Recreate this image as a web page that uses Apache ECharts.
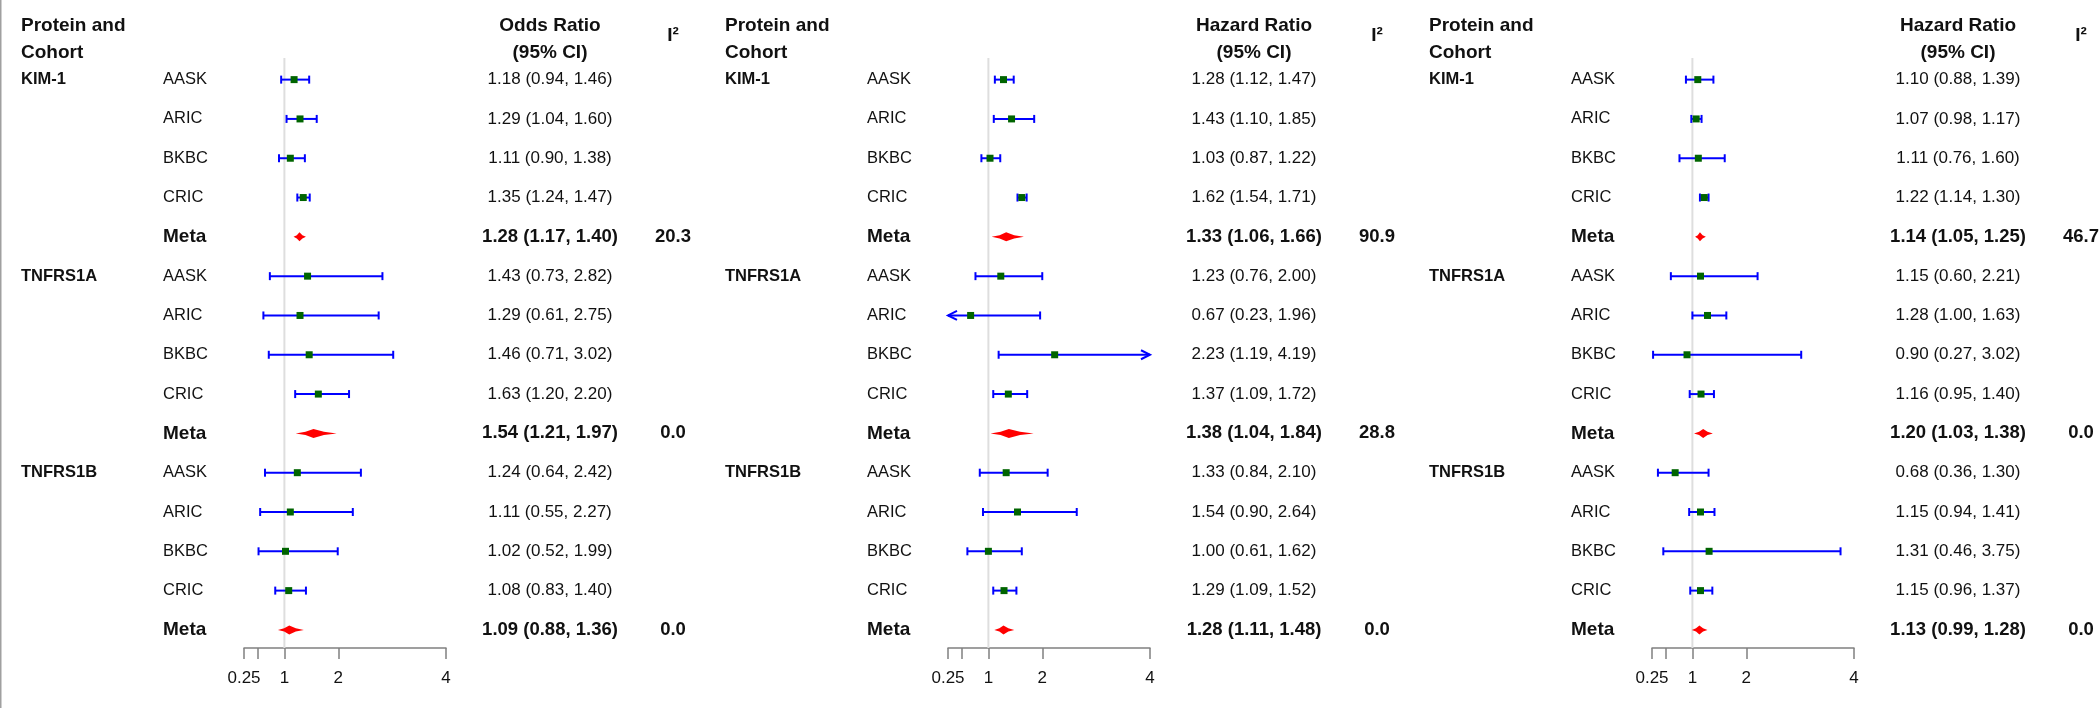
<!DOCTYPE html>
<html>
<head>
<meta charset="utf-8">
<script src="https://cdn.jsdelivr.net/npm/echarts@6/dist/echarts.min.js"></script>
<style>
html,body{margin:0;padding:0;background:#fff;}
#chart{width:2100px;height:708px;}
</style>
</head>
<body>
<div id="chart"></div>
<script>
// ---------------- DATA ----------------
const proteins = ['KIM-1', 'TNFRS1A', 'TNFRS1B'];
const cohorts = ['AASK', 'ARIC', 'BKBC', 'CRIC', 'Meta'];
const panelTitles = ['Odds Ratio', 'Hazard Ratio', 'Hazard Ratio'];

// Panel 1 (Odds Ratio) — rows: KIM-1 x5, TNFRS1A x5, TNFRS1B x5 (last of each = Meta)
const est1 = [1.18, 1.29, 1.11, 1.35, 1.28,  1.43, 1.29, 1.46, 1.63, 1.54,  1.24, 1.11, 1.02, 1.08, 1.09];
const lo1  = [0.94, 1.04, 0.90, 1.24, 1.17,  0.73, 0.61, 0.71, 1.20, 1.21,  0.64, 0.55, 0.52, 0.83, 0.88];
const hi1  = [1.46, 1.60, 1.38, 1.47, 1.40,  2.82, 2.75, 3.02, 2.20, 1.97,  2.42, 2.27, 1.99, 1.40, 1.36];
const isq1 = [20.3, 0.0, 0.0];

// Panel 2 (Hazard Ratio)
const est2 = [1.28, 1.43, 1.03, 1.62, 1.33,  1.23, 0.67, 2.23, 1.37, 1.38,  1.33, 1.54, 1.00, 1.29, 1.28];
const lo2  = [1.12, 1.10, 0.87, 1.54, 1.06,  0.76, 0.23, 1.19, 1.09, 1.04,  0.84, 0.90, 0.61, 1.09, 1.11];
const hi2  = [1.47, 1.85, 1.22, 1.71, 1.66,  2.00, 1.96, 4.19, 1.72, 1.84,  2.10, 2.64, 1.62, 1.52, 1.48];
const isq2 = [90.9, 28.8, 0.0];

// Panel 3 (Hazard Ratio)
const est3 = [1.10, 1.07, 1.11, 1.22, 1.14,  1.15, 1.28, 0.90, 1.16, 1.20,  0.68, 1.15, 1.31, 1.15, 1.13];
const lo3  = [0.88, 0.98, 0.76, 1.14, 1.05,  0.60, 1.00, 0.27, 0.95, 1.03,  0.36, 0.94, 0.46, 0.96, 0.99];
const hi3  = [1.39, 1.17, 1.60, 1.30, 1.25,  2.21, 1.63, 3.02, 1.40, 1.38,  1.30, 1.41, 3.75, 1.37, 1.28];
const isq3 = [46.7, 0.0, 0.0];

const xTickValues = [0.25, 0.5, 1, 2, 4];
const xTickLabels = [0.25, 1, 2, 4];
const xMin = 0.25, xMax = 4;

// ---------------- LAYOUT ----------------
const panels = [
  {est: est1, lo: lo1, hi: hi1, isq: isq1, title: panelTitles[0]},
  {est: est2, lo: lo2, hi: hi2, isq: isq2, title: panelTitles[1]},
  {est: est3, lo: lo3, hi: hi3, isq: isq3, title: panelTitles[2]}
];
const PANEL_STEP = 704;
const TOP = 58, HEIGHT = 590;
const Y_MIN = -0.55, Y_MAX = 14.46;
const COL_PROTEIN = 21, COL_COHORT = 163, COL_CI = 550, COL_ISQ = 673;
const FOREST_LEFT = 244, FOREST_W = 202;
const FONT = '"Liberation Sans", Arial, Helvetica, sans-serif';
const TXT = '#111111';

const grids = [], xAxes = [], yAxes = [], series = [];

panels.forEach((pn, p) => {
  const gTable = grids.length;
  grids.push({left: p * PANEL_STEP, top: TOP, width: 700, height: HEIGHT, outerBoundsMode: 'none'});
  const gForest = grids.length;
  grids.push({left: p * PANEL_STEP + FOREST_LEFT, top: TOP, width: FOREST_W, height: HEIGHT, outerBoundsMode: 'none'});

  xAxes.push({gridIndex: gTable, type: 'value', min: 0, max: 700, show: false});
  yAxes.push({gridIndex: gTable, type: 'value', min: Y_MIN, max: Y_MAX, inverse: true, show: false});

  xAxes.push({
    gridIndex: gForest, type: 'value', min: xMin, max: xMax, position: 'bottom',
    axisLine: {show: true, onZero: false, lineStyle: {color: '#808080', width: 1.5}},
    axisTick: {show: true, length: 11, inside: false, customValues: xTickValues, lineStyle: {color: '#808080', width: 1.5}},
    axisLabel: {show: true, customValues: xTickLabels, fontSize: 17, color: TXT, fontFamily: FONT, margin: 22,
      formatter: v => String(v)},
    splitLine: {show: false}
  });
  yAxes.push({gridIndex: gForest, type: 'value', min: Y_MIN, max: Y_MAX, inverse: true, show: false});

  const xT = xAxes.length - 2, yT = yAxes.length - 2;
  const xF = xAxes.length - 1, yF = yAxes.length - 1;

  // ----- text items -----
  const items = [];
  items.push({x: COL_PROTEIN, y: -1.02, text: 'Protein and\nCohort', bold: true, size: 19, align: 'left'});
  items.push({x: COL_CI, y: -1.02, text: pn.title + '\n(95% CI)', bold: true, size: 19, align: 'center'});
  items.push({x: COL_ISQ, y: -1.11, text: 'I\u00B2', bold: true, size: 19, align: 'center'});
  proteins.forEach((prot, g) => {
    items.push({x: COL_PROTEIN, y: g * 5, text: prot, bold: true, size: 16.5, align: 'left'});
    cohorts.forEach((c, k) => {
      const r = g * 5 + k;
      const meta = c === 'Meta';
      items.push({x: COL_COHORT, y: r, text: c, bold: meta, size: meta ? 19 : 16.5, align: 'left'});
      const s = pn.est[r].toFixed(2) + ' (' + pn.lo[r].toFixed(2) + ', ' + pn.hi[r].toFixed(2) + ')';
      items.push({x: COL_CI, y: r, text: s, bold: meta, size: meta ? 18.5 : 17, align: 'center'});
      if (meta) items.push({x: COL_ISQ, y: r, text: pn.isq[g].toFixed(1), bold: true, size: 18.5, align: 'center'});
    });
  });

  series.push({
    type: 'custom', xAxisIndex: xT, yAxisIndex: yT, clip: false, silent: true,
    data: items.map(d => [d.x, d.y]),
    encode: {x: 0, y: 1},
    renderItem: (params, api) => {
      const it = items[params.dataIndex];
      const pt = api.coord([api.value(0), api.value(1)]);
      return {
        type: 'text', x: pt[0], y: pt[1],
        style: {
          text: it.text, fill: TXT, fontFamily: FONT, fontSize: it.size,
          fontWeight: it.bold ? 'bold' : 'normal', align: it.align, verticalAlign: 'middle',
          lineHeight: 27
        }
      };
    }
  });

  // ----- reference line at 1 -----
  series.push({
    type: 'line', xAxisIndex: xF, yAxisIndex: yF, silent: true, symbol: 'none', z: 1,
    data: [[1, Y_MIN], [1, Y_MAX]],
    lineStyle: {color: '#dedede', width: 2}
  });

  // ----- forest marks -----
  const fdata = pn.est.map((e, r) => [e, r, pn.lo[r], pn.hi[r], (r % 5 === 4) ? 1 : 0]);
  series.push({
    type: 'custom', xAxisIndex: xF, yAxisIndex: yF, clip: false, silent: true, z: 3,
    data: fdata,
    encode: {x: 0, y: 1},
    renderItem: (params, api) => {
      const e = api.value(0), r = api.value(1), lo = api.value(2), hi = api.value(3), meta = api.value(4);
      const pe = api.coord([e, r]);
      const xl = api.coord([Math.max(lo, xMin), r])[0];
      const xh = api.coord([Math.min(hi, xMax), r])[0];
      const y = pe[1];
      if (meta) {
        const m1 = xl + (pe[0] - xl) * 0.55, m2 = xh - (xh - pe[0]) * 0.55;
        return {
          type: 'polygon',
          shape: {points: [[xl, y], [m1, y - 1.6], [pe[0], y - 4.5], [m2, y - 1.6], [xh, y], [m2, y + 1.6], [pe[0], y + 4.5], [m1, y + 1.6]]},
          style: {fill: '#ff0000'}
        };
      }
      const blue = {stroke: '#0000ff', lineWidth: 2, fill: null};
      const ch = [];
      ch.push({type: 'line', shape: {x1: xl, y1: y, x2: xh, y2: y}, style: blue});
      if (lo < xMin) {
        ch.push({type: 'polyline', shape: {points: [[xl + 9, y - 4.5], [xl, y], [xl + 9, y + 4.5]]}, style: blue});
      } else {
        ch.push({type: 'line', shape: {x1: xl, y1: y - 4, x2: xl, y2: y + 4}, style: blue});
      }
      if (hi > xMax) {
        ch.push({type: 'polyline', shape: {points: [[xh - 9, y - 4.5], [xh, y], [xh - 9, y + 4.5]]}, style: blue});
      } else {
        ch.push({type: 'line', shape: {x1: xh, y1: y - 4, x2: xh, y2: y + 4}, style: blue});
      }
      ch.push({type: 'rect', shape: {x: pe[0] - 3.5, y: y - 3.5, width: 7, height: 7}, style: {fill: '#006400'}});
      return {type: 'group', children: ch};
    }
  });
});

const chart = echarts.init(document.getElementById('chart'), null, {renderer: 'canvas'});
chart.setOption({
  backgroundColor: '#ffffff',
  animation: false,
  grid: grids,
  xAxis: xAxes,
  yAxis: yAxes,
  series: series,
  graphic: [{
    type: 'line', silent: true,
    shape: {x1: 0.75, y1: 0, x2: 0.75, y2: 708},
    style: {stroke: '#a0a0a0', lineWidth: 1.5}
  }]
});
</script>
</body>
</html>
